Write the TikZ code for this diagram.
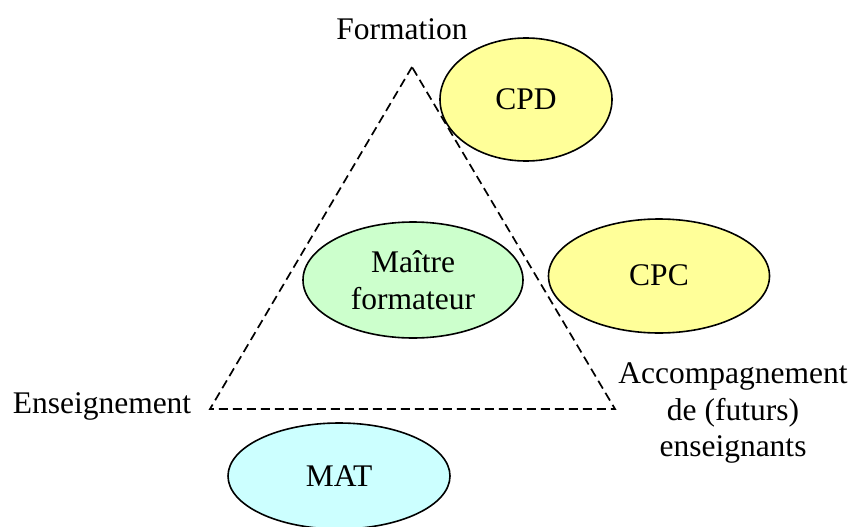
\documentclass[tikz,border=0pt]{standalone}
\usepackage{fontspec}
\setmainfont{Liberation Serif}
\usetikzlibrary{shapes.geometric}
\definecolor{paleyellow}{HTML}{FFFF99}
\definecolor{palegreen}{HTML}{CCFFCC}
\definecolor{palecyan}{HTML}{CCFFFF}
\tikzset{
  oval/.style={ellipse, draw=black, line width=1.6pt, inner sep=0pt, align=center,
    font=\fontsize{31.5}{36.5}\selectfont},
  lbl/.style={inner sep=0pt, align=center, font=\fontsize{31.5}{36.5}\selectfont},
  tri/.style={draw=black, line width=1.7pt, dash pattern=on 9pt off 5pt, line join=miter}
}
\begin{document}
\begin{tikzpicture}[x=1pt,y=-1pt]
\useasboundingbox (0,0) rectangle (851,527);
\coordinate (apex) at (412,67);
\coordinate (bl) at (210,409);
\coordinate (br) at (615,409);
\draw[tri] (apex) -- (bl) -- (br) -- cycle;
\node[oval, fill=paleyellow, minimum width=172pt, minimum height=123pt] (cpd) at (526,99.5) {CPD};
\node[oval, fill=palegreen, minimum width=220pt, minimum height=116pt] (mf) at (413,280) {Maître\\formateur};
\node[oval, fill=paleyellow, minimum width=221pt, minimum height=114pt] (cpc) at (659,276) {\raisebox{2pt}{CPC}};
\node[oval, fill=palecyan, minimum width=222pt, minimum height=106pt] (mat) at (339,476) {\raisebox{-4pt}{MAT}};
\node[lbl, anchor=base] (form) at (402,40) {Formation};
\node[lbl, anchor=base] (ens) at (102,413) {Enseignement};
\node[lbl] (acc) at (733,413) {Accompagnement\\de (futurs)\\enseignants};
\end{tikzpicture}
\end{document}
